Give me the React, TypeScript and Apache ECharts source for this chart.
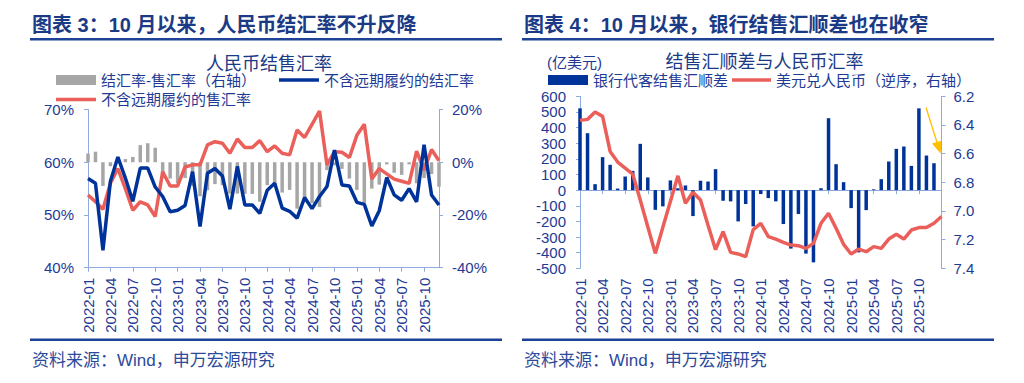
import React, { useEffect, useRef } from 'react';
import * as echarts from 'echarts';

function buildMonths(startYear: number, count: number): string[] {
  const out: string[] = [];
  for (let k = 0; k < count; k++) {
    const y = startYear + Math.floor(k / 12);
    const m = (k % 12) + 1;
    out.push(`${y}-${m < 10 ? '0' + m : m}`);
  }
  return out;
}

// Left chart: 2022-01 .. 2025-12
const monthsLeft = buildMonths(2022, 48);
// Right chart: 2022-01 .. 2026-01
const monthsRight = buildMonths(2022, 49);

// 结汇率-售汇率（右轴）, %
const diffRate = [
  3.3, 4.0, -9.0, -1.5, 2.0, 1.2, 2.0, 6.5, 7.2, 5.5, -6.0, -6.2,
  -8.0, -6.0, -9.0, -12.9, -10.6, -8.3, -8.7, -11.9, -11.9, -12.0, -12.0, -15.0,
  -8.7, -8.3, -11.5, -10.5, -17.6, -13.5, -15.5, -17.0, -3.0, -1.2, -2.5, -6.2,
  -10.5, -15.5, -10.0, -8.5, -0.8, -4.0, -4.8, -0.8, -8.0, -6.0, -4.5, -9.3,
];
// 不含远期履约的结汇率, %
const settleRate = [
  56.9, 56.0, 43.3, 56.4, 61.0, 57.0, 52.6, 58.9, 58.9, 55.3, 53.5, 50.6,
  50.9, 51.8, 58.2, 47.8, 57.9, 58.8, 57.4, 51.1, 59.2, 51.9, 51.9, 50.3,
  54.7, 56.0, 51.3, 50.7, 49.4, 53.3, 51.2, 53.5, 55.4, 62.3, 55.7, 55.5,
  52.4, 52.0, 47.9, 50.8, 57.1, 53.8, 52.8, 55.0, 52.5, 63.3, 53.8, 51.9,
];
// 不含远期履约的售汇率, %
const saleRate = [
  53.8, 52.5, 51.1, 56.0, 58.8, 55.0, 50.9, 52.5, 51.9, 49.7, 58.2, 55.5,
  55.5, 59.1, 59.5, 59.5, 63.3, 63.9, 63.6, 61.7, 64.4, 62.8, 62.8, 64.1,
  62.0, 63.1, 61.7, 61.4, 66.1, 64.7, 67.2, 69.7, 59.5, 62.0, 61.9, 60.9,
  65.1, 67.2, 56.8, 58.8, 57.8, 56.8, 56.4, 56.0, 62.1, 58.5, 62.4, 60.3,
];

// 银行代客结售汇顺差, 亿美元
const surplus: (number | null)[] = [
  523, 364, 38, 211, 162, 10, 87, 123, 296, 81, -126, -104,
  62, 12, 30, -166, 60, 55, 134, -68, -72, -200, -89, -232,
  -25, -51, -72, -217, -374, -153, -406, -462, 12, 460, 166, 51,
  -115, -398, -128, 5, 70, 183, 264, 279, 155, 523, 221, 172,
  null,
];
// 美元兑人民币（逆序，右轴）
const usdCny = [
  6.368, 6.361, 6.31, 6.34, 6.585, 6.659, 6.701, 6.743, 6.923, 7.11, 7.296, 7.114,
  6.934, 6.755, 6.946, 6.869, 6.923, 7.1, 7.27, 7.144, 7.289, 7.3, 7.319, 7.13,
  7.086, 7.179, 7.196, 7.219, 7.238, 7.242, 7.261, 7.226, 7.086, 7.016, 7.121, 7.233,
  7.3, 7.266, 7.284, 7.249, 7.261, 7.196, 7.163, 7.196, 7.133, 7.116, 7.116, 7.086,
  7.039,
];

const FONT = "Arial, 'Liberation Sans', 'Noto Sans CJK SC', sans-serif";
const NAVY = '#003399';
const RED = '#EB5F5A';
const GRAY = '#A6A6A6';
const AXIS = '#8FAADC';
const LABEL = '#1E3A94';
const TITLE = '#1B3A86';
const RULE = '#1D4296';

const labelEvery3 = (idx: number) => idx % 3 === 0 && idx <= 45;

function txt(text: string, x: number, y: number, size: number, opts: any = {}) {
  return {
    type: 'text',
    silent: true,
    style: {
      text,
      x,
      y,
      fill: opts.color || TITLE,
      fontSize: size,
      fontWeight: opts.bold ? 'bold' : 'normal',
      fontFamily: FONT,
      align: opts.align || 'left',
      textAlign: opts.align || 'left',
      verticalAlign: 'middle',
      textVerticalAlign: 'middle',
    },
  };
}

function hline(x1: number, x2: number, y: number, w: number, color: string) {
  return {
    type: 'line',
    silent: true,
    shape: { x1, y1: y, x2, y2: y },
    style: { stroke: color, lineWidth: w },
  };
}

export default function App() {
  const ref = useRef<HTMLDivElement>(null);

  useEffect(() => {
    if (!ref.current) return;
    const chart = echarts.init(ref.current, undefined, { renderer: 'svg' });

    const xLabel = {
      rotate: 90,
      color: LABEL,
      fontSize: 15,
      fontFamily: FONT,
      margin: 10,
      interval: labelEvery3,
    };
    const yLabelBase = { color: LABEL, fontSize: 15, fontFamily: FONT };
    const axisLine = { show: true, lineStyle: { color: AXIS, width: 1 } };
    const tick = { show: true, length: 4, lineStyle: { color: AXIS } };
    const legendText = { color: LABEL, fontSize: 15, fontFamily: FONT };

    const option: any = {
      animation: false,
      backgroundColor: '#ffffff',
      grid: [
        { left: 88, right: 585, top: 109.5, bottom: 115.3, containLabel: false },
        { left: 580, right: 82.5, top: 96.3, bottom: 114.7, containLabel: false },
      ],
      legend: [
        {
          data: ['结汇率-售汇率（右轴）'], left: 56, top: 72.5, padding: 0,
          itemWidth: 40, itemHeight: 10, icon: 'rect', textStyle: legendText, selectedMode: false,
        },
        {
          data: ['不含远期履约的结汇率'], left: 279, top: 72.5, padding: 0,
          itemWidth: 40, itemHeight: 3.5, icon: 'rect', textStyle: legendText, selectedMode: false,
        },
        {
          data: ['不含远期履约的售汇率'], left: 56, top: 92, padding: 0,
          itemWidth: 40, itemHeight: 3.5, icon: 'rect', textStyle: legendText, selectedMode: false,
        },
        {
          data: ['银行代客结售汇顺差'], left: 548, top: 72.5, padding: 0,
          itemWidth: 40, itemHeight: 10, icon: 'rect', textStyle: legendText, selectedMode: false,
        },
        {
          data: ['美元兑人民币（逆序，右轴）'], left: 732, top: 72.5, padding: 0,
          itemWidth: 39, itemHeight: 3.5, icon: 'rect', textStyle: legendText, selectedMode: false,
        },
      ],
      xAxis: [
        {
          gridIndex: 0, type: 'category', data: monthsLeft, boundaryGap: false,
          position: 'bottom',
          axisLine: { ...axisLine, onZero: false },
          axisTick: { ...tick, interval: labelEvery3 },
          axisLabel: xLabel,
          splitLine: { show: false },
        },
        {
          gridIndex: 1, type: 'category', data: monthsRight, boundaryGap: false,
          position: 'bottom',
          axisLine: { show: false, onZero: false },
          axisTick: { show: false },
          axisLabel: xLabel,
          splitLine: { show: false },
        },
        {
          gridIndex: 1, type: 'category', data: monthsRight, boundaryGap: false,
          position: 'top',
          axisLine: { show: true, onZero: true, lineStyle: { color: AXIS, width: 1 } },
          axisTick: { show: true, inside: true, length: 4, interval: labelEvery3, lineStyle: { color: AXIS } },
          axisLabel: { show: false },
          splitLine: { show: false },
        },
      ],
      yAxis: [
        {
          gridIndex: 0, type: 'value', min: 40, max: 70, interval: 10, position: 'left',
          axisLine, axisTick: tick, splitLine: { show: false },
          axisLabel: { ...yLabelBase, margin: 14, formatter: '{value}%' },
        },
        {
          gridIndex: 0, type: 'value', min: -40, max: 20, interval: 20, position: 'right',
          axisLine, axisTick: tick, splitLine: { show: false },
          axisLabel: { ...yLabelBase, margin: 13, formatter: '{value}%' },
        },
        {
          gridIndex: 1, type: 'value', min: -500, max: 600, interval: 100, position: 'left',
          axisLine, axisTick: tick, splitLine: { show: false },
          axisLabel: { ...yLabelBase, margin: 14 },
        },
        {
          gridIndex: 1, type: 'value', min: 6.2, max: 7.4, interval: 0.2, position: 'right',
          inverse: true,
          axisLine, axisTick: tick, splitLine: { show: false },
          axisLabel: { ...yLabelBase, margin: 12, formatter: (v: number) => v.toFixed(1) },
        },
      ],
      series: [
        {
          name: '结汇率-售汇率（右轴）', type: 'bar', xAxisIndex: 0, yAxisIndex: 1,
          data: diffRate, barWidth: 3.5, itemStyle: { color: GRAY }, z: 2,
        },
        {
          name: '不含远期履约的售汇率', type: 'line', xAxisIndex: 0, yAxisIndex: 0,
          data: saleRate, symbol: 'none', showSymbol: false,
          lineStyle: { color: RED, width: 3.5 }, itemStyle: { color: RED }, z: 3,
        },
        {
          name: '不含远期履约的结汇率', type: 'line', xAxisIndex: 0, yAxisIndex: 0,
          data: settleRate, symbol: 'none', showSymbol: false,
          lineStyle: { color: NAVY, width: 3.5 }, itemStyle: { color: NAVY }, z: 4,
        },
        {
          name: '银行代客结售汇顺差', type: 'bar', xAxisIndex: 1, yAxisIndex: 2,
          data: surplus, barWidth: 3.5, itemStyle: { color: NAVY }, z: 2,
        },
        {
          name: '美元兑人民币（逆序，右轴）', type: 'line', xAxisIndex: 1, yAxisIndex: 3,
          data: usdCny, symbol: 'none', showSymbol: false,
          lineStyle: { color: RED, width: 3.5 }, itemStyle: { color: RED }, z: 3,
        },
      ],
      graphic: [
        txt('图表 3：10 月以来，人民币结汇率不升反降', 32, 25, 20, { bold: true }),
        txt('图表 4：10 月以来，银行结售汇顺差也在收窄', 524, 25, 20, { bold: true }),
        hline(30, 502, 39.3, 2.5, RULE),
        hline(522, 994, 39.3, 2.5, RULE),
        hline(30, 502, 339.7, 2.5, RULE),
        hline(522, 994, 339.7, 2.5, RULE),
        txt('人民币结售汇率', 269, 64, 18, { align: 'center' }),
        txt('结售汇顺差与人民币汇率', 764.5, 62, 18, { align: 'center' }),
        txt('(亿美元)', 547, 62, 15, { color: LABEL }),
        txt('资料来源：Wind，申万宏源研究', 32, 360, 17, { color: '#2C4A9A' }),
        txt('资料来源：Wind，申万宏源研究', 524, 360, 17, { color: '#2C4A9A' }),
        {
          type: 'line', silent: true,
          shape: { x1: 926, y1: 107.5, x2: 937.5, y2: 144 },
          style: { stroke: '#FFC000', lineWidth: 1.3 },
        },
        {
          type: 'polygon', silent: true,
          shape: { points: [[932, 143.5], [942, 140.5], [940.5, 153.5]] },
          style: { fill: '#FFC000' },
        },
      ],
    };

    chart.setOption(option);
    return () => {
      chart.dispose();
    };
  }, []);

  return (
    <div
      ref={ref}
      style={{ position: 'fixed', left: 0, top: 0, width: 1024, height: 383, background: '#fff' }}
    />
  );
}
